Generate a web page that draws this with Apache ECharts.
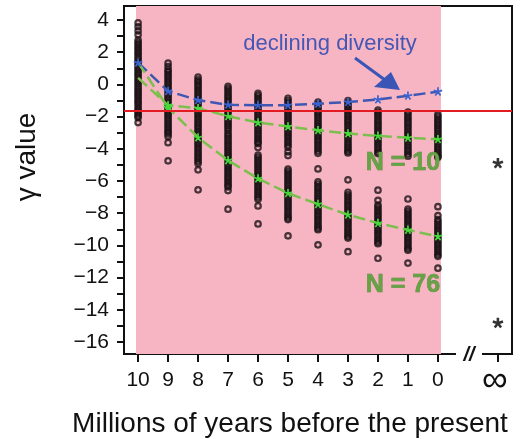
<!DOCTYPE html>
<html><head><meta charset="utf-8">
<script src="https://cdn.jsdelivr.net/npm/echarts@6/dist/echarts.min.js"></script>
<style>html,body{margin:0;padding:0;background:#fff}#c{width:527px;height:439px}</style>
</head><body><div id="c"></div>
<script>
// ---- data ----
const years = [10, 9, 8, 7, 6, 5, 4, 3, 2, 1, 0];
const decliningMean = [1.35, -0.42, -0.98, -1.27, -1.29, -1.29, -1.2, -1.1, -0.94, -0.71, -0.45];
const n10Mean = [0.4, -1.3, -1.48, -1.98, -2.37, -2.62, -2.85, -3.05, -3.2, -3.32, -3.41];
const n76Mean = [1.35, -1.45, -3.3, -4.72, -5.85, -6.76, -7.44, -8.1, -8.62, -9.04, -9.45];
const sim10 = [
  [3.82,3.58,3.33,3.08,2.75,2.6,2.47,2.32,2.18,2.03,1.9,1.74,1.6,1.45,1.31,1.17,1.02,0.88,0.73,0.6,0.45,0.3,0.16,0.02,-0.13,-0.27,-0.42,-0.56,-0.7,-0.85,-1.0,-1.13,-1.27,-1.44,-1.58,-1.71,-1.84,-1.96,-2.06,-2.37],
  [1.32,1.11,0.9,0.78,0.63,0.5,0.35,0.2,0.06,-0.08,-0.23,-0.37,-0.52,-0.66,-0.8,-0.95,-1.1,-1.24,-1.38,-1.53,-1.67,-1.82,-1.96,-2.1,-2.25,-2.4,-2.54,-2.68,-2.83,-2.96,-3.08,-3.24,-3.62,-4.75],
  [0.45,0.28,0.15,0.0,-0.14,-0.29,-0.43,-0.58,-0.72,-0.87,-1.01,-1.16,-1.3,-1.45,-1.6,-1.74,-1.88,-2.03,-2.17,-2.32,-2.46],
  [-0.12,-0.26,-0.4,-0.55,-0.7,-0.84,-0.99,-1.13,-1.28,-1.42,-1.57,-1.71,-1.86,-2.0,-2.15,-2.3,-2.44,-2.58,-2.73,-2.88],
  [-0.56,-0.7,-0.85,-0.99,-1.14,-1.28,-1.43,-1.57,-1.72,-1.86,-2.01,-2.15,-2.3,-2.45,-2.59,-2.74,-2.88,-3.03,-3.17,-3.32,-3.46,-3.6,-3.68,-3.92],
  [-0.86,-1.0,-1.15,-1.29,-1.44,-1.58,-1.73,-1.87,-2.02,-2.16,-2.31,-2.45,-2.6,-2.74,-2.89,-3.03,-3.18,-3.32,-3.47,-3.61,-3.76,-3.9,-4.19,-4.42],
  [-1.1,-1.24,-1.39,-1.53,-1.68,-1.82,-1.97,-2.11,-2.26,-2.4,-2.55,-2.69,-2.84,-2.98,-3.13,-3.27,-3.42,-3.56,-3.71,-3.85,-4.0,-4.14,-4.28,-5.25],
  [-1.0,-1.14,-1.29,-1.43,-1.58,-1.72,-1.87,-2.01,-2.16,-2.3,-2.45,-2.59,-2.74,-2.88,-3.03,-3.17,-3.32,-3.46,-3.61,-3.75,-3.9,-4.04,-4.17,-4.26],
  [-1.6,-1.74,-1.89,-2.03,-2.18,-2.32,-2.47,-2.61,-2.76,-2.9,-3.05,-3.19,-3.34,-3.48,-3.63,-3.77,-3.92,-4.06,-4.2,-4.3],
  [-1.72,-1.86,-2.01,-2.15,-2.3,-2.44,-2.59,-2.73,-2.88,-3.02,-3.17,-3.31,-3.46,-3.6,-3.75,-3.89,-4.04,-4.18,-4.33,-4.46],
  [-1.86,-2.0,-2.15,-2.29,-2.44,-2.58,-2.73,-2.87,-3.02,-3.16,-3.31,-3.45,-3.6,-3.74,-3.89,-4.03,-4.18,-4.32,-4.45,-4.52]
];
const sim76 = [
  [],
  [],
  [-2.6,-2.75,-2.9,-3.04,-3.18,-3.33,-3.47,-3.62,-3.76,-3.91,-4.05,-4.2,-4.34,-4.49,-4.63,-4.78,-4.92,-5.31,-6.55],
  [-3.05,-3.2,-3.35,-3.5,-3.64,-3.79,-3.94,-4.08,-4.23,-4.38,-4.52,-4.67,-4.82,-4.96,-5.11,-5.26,-5.4,-5.55,-5.7,-5.84,-5.99,-6.13,-6.27,-6.37,-6.6,-7.75],
  [-4.4,-4.54,-4.69,-4.83,-4.98,-5.12,-5.27,-5.41,-5.56,-5.7,-5.85,-6.0,-6.14,-6.29,-6.43,-6.58,-6.72,-6.87,-7.01,-7.14,-7.55,-8.67],
  [-5.27,-5.41,-5.56,-5.7,-5.85,-5.99,-6.14,-6.28,-6.43,-6.57,-6.72,-6.86,-7.01,-7.15,-7.3,-7.44,-7.59,-7.73,-7.88,-8.02,-8.17,-8.3,-8.4,-9.41],
  [-6.05,-6.19,-6.34,-6.48,-6.63,-6.77,-6.92,-7.06,-7.21,-7.35,-7.5,-7.64,-7.79,-7.93,-8.08,-8.22,-8.37,-8.51,-8.66,-8.8,-8.93,-9.03,-9.97],
  [-5.93,-6.7,-6.86,-7.0,-7.15,-7.29,-7.44,-7.58,-7.73,-7.87,-8.02,-8.16,-8.31,-8.45,-8.6,-8.74,-8.89,-9.03,-9.18,-9.32,-9.45,-9.55,-10.39],
  [-6.57,-7.2,-7.5,-7.64,-7.79,-7.93,-8.08,-8.22,-8.37,-8.51,-8.66,-8.8,-8.95,-9.09,-9.24,-9.38,-9.53,-9.67,-9.8,-9.9,-10.8],
  [-7.12,-7.75,-7.89,-8.04,-8.18,-8.33,-8.47,-8.62,-8.76,-8.91,-9.05,-9.2,-9.34,-9.49,-9.63,-9.78,-9.92,-10.07,-10.2,-10.3,-11.1],
  [-7.6,-8.15,-8.4,-8.54,-8.69,-8.83,-8.98,-9.12,-9.27,-9.41,-9.56,-9.7,-9.85,-9.99,-10.14,-10.28,-10.43,-10.57,-10.68,-11.42]
];
const infinityX = -2;
const infinityVals = [-4.9, -14.83];
const redLineY = -1.65;
const pinkSpan = [10.07, -0.1];
const xTicks = [10, 9, 8, 7, 6, 5, 4, 3, 2, 1, 0, -2];
const yTicks = [-16,-15,-14,-13,-12,-11,-10,-9,-8,-7,-6,-5,-4,-3,-2,-1,0,1,2,3,4];
const yLabels = [-16,-14,-12,-10,-8,-6,-4,-2,0,2,4];

// ---- drawing ----
const FONT = "'Liberation Sans', Arial, sans-serif";
function asteriskPath(w) {
  let d = '';
  for (let k = 0; k < 5; k++) {
    const a = (-90 + 72 * k) * Math.PI / 180;
    const ux = Math.cos(a), uy = Math.sin(a);
    const px = -uy * w, py = ux * w;
    const p = [[px, py], [ux + px, uy + py], [ux - px, uy - py], [-px, -py]];
    d += 'M' + p.map(q => q[0].toFixed(3) + ' ' + q[1].toFixed(3)).join(' L') + ' Z ';
  }
  return 'path://' + d;
}
const AST = asteriskPath(0.19);
const AST_BOLD = asteriskPath(0.24);

function cloud(arr) {
  const out = [];
  arr.forEach((vals, i) => vals.forEach(v => out.push([years[i], v])));
  return out;
}
const circleStyle = { color: 'rgba(0,0,0,0)', borderColor: '#1a1215', borderWidth: 2.2 };

const chart = echarts.init(document.getElementById('c'), null, { renderer: 'canvas' });
chart.setOption({
  animation: false,
  backgroundColor: '#fff',
  grid: { left: 124, top: 6, right: 15, bottom: 85, show: true, borderColor: '#111', borderWidth: 2, backgroundColor: 'rgba(0,0,0,0)' },
  xAxis: {
    type: 'value', inverse: true, min: -2.47, max: 10.47,
    axisLine: { show: true, onZero: false, lineStyle: { color: '#111', width: 2 } },
    axisTick: { show: true, customValues: xTicks, length: 8, lineStyle: { color: '#111', width: 2 } },
    axisLabel: {
      customValues: xTicks, fontSize: 21, color: '#111', fontFamily: FONT, margin: 16,
      formatter: v => v === infinityX ? '{inf|\u221E}' : String(v),
      rich: { inf: { fontSize: 36, lineHeight: 22, fontFamily: FONT, color: '#111', padding: [0, 6, 0, 0] } }
    },
    splitLine: { show: false }
  },
  yAxis: {
    type: 'value', min: -16.75, max: 4.87,
    axisLine: { show: true, onZero: false, lineStyle: { color: '#111', width: 2 } },
    axisTick: { show: true, customValues: yTicks, length: 7, lineStyle: { color: '#111', width: 2 } },
    axisLabel: {
      customValues: yLabels, fontSize: 21, color: '#111', fontFamily: FONT, margin: 15,
      formatter: v => v < 0 ? '\u2212' + Math.abs(v) : String(v)
    },
    splitLine: { show: false }
  },
  series: [
    { type: 'line', data: [], z: 1, silent: true,
      markArea: { silent: true, itemStyle: { color: '#f7b5c4' }, data: [[{ xAxis: pinkSpan[0] }, { xAxis: pinkSpan[1] }]] } },
    { type: 'scatter', z: 2, silent: true, symbol: 'circle', symbolSize: 5.5, itemStyle: circleStyle, data: cloud(sim10) },
    { type: 'scatter', z: 2, silent: true, symbol: 'circle', symbolSize: 5.5, itemStyle: circleStyle, data: cloud(sim76) },
    { type: 'line', data: [], z: 3, silent: true,
      markLine: { silent: true, symbol: ['none', 'none'], label: { show: false },
        lineStyle: { color: '#e31b23', width: 2, type: 'solid' }, data: [{ yAxis: redLineY }] } },
    { type: 'line', z: 4, silent: true, data: years.map((x, i) => [x, decliningMean[i]]),
      symbol: AST, symbolSize: 9, symbolKeepAspect: true,
      itemStyle: { color: '#3b63d0' }, lineStyle: { color: '#3f57b3', width: 2.5, type: [12, 5] } },
    { type: 'line', z: 4, silent: true,
      data: years.map((x, i) => i === 0 ? { value: [x, n10Mean[i]], symbol: 'none' } : [x, n10Mean[i]]),
      symbol: AST, symbolSize: 9, symbolKeepAspect: true,
      itemStyle: { color: '#45d93a' }, lineStyle: { color: '#7dbf4e', width: 2.5, type: [12, 5] } },
    { type: 'line', z: 4, silent: true,
      data: years.map((x, i) => i === 0 ? { value: [x, n76Mean[i]], symbol: 'none' } : [x, n76Mean[i]]),
      symbol: AST, symbolSize: 9, symbolKeepAspect: true,
      itemStyle: { color: '#45d93a' }, lineStyle: { color: '#7dbf4e', width: 2.5, type: [12, 5] } },
    { type: 'scatter', z: 4, silent: true, data: infinityVals.map(v => [infinityX, v]),
      symbol: AST_BOLD, symbolSize: 11, symbolKeepAspect: true, itemStyle: { color: '#000' } }
  ],
  graphic: [
    { type: 'text', x: 27, y: 157, rotation: Math.PI / 2, z: 100,
      style: { text: '\u03B3 value', fontSize: 28, fontFamily: FONT, fill: '#111', align: 'center', verticalAlign: 'middle' } },
    { type: 'text', x: 290, y: 424, z: 100,
      style: { text: 'Millions of years before the present', fontSize: 28, fontFamily: FONT, fill: '#111', align: 'center', verticalAlign: 'middle' } },
    { type: 'text', x: 330, y: 44, z: 100,
      style: { text: 'declining diversity', fontSize: 22, fontFamily: FONT, fill: '#4557b5', align: 'center', verticalAlign: 'middle' } },
    { type: 'line', z: 100, shape: { x1: 355, y1: 58, x2: 385, y2: 80 }, style: { stroke: '#3a55b5', lineWidth: 3 } },
    { type: 'polygon', z: 100, shape: { points: [[400, 90], [374, 87], [391, 72]] }, style: { fill: '#3a55b5' } },
    { type: 'text', x: 403, y: 163, z: 100,
      style: { text: 'N = 10', fontSize: 25, fontWeight: 'bold', fontFamily: FONT, fill: '#66a345', stroke: '#4f7d37', lineWidth: 0.6, align: 'center', verticalAlign: 'middle' } },
    { type: 'text', x: 403, y: 285, z: 100,
      style: { text: 'N = 76', fontSize: 25, fontWeight: 'bold', fontFamily: FONT, fill: '#66a345', stroke: '#4f7d37', lineWidth: 0.6, align: 'center', verticalAlign: 'middle' } },
    { type: 'rect', z: 100, shape: { x: 456, y: 349, width: 26, height: 10 }, style: { fill: '#fff' } },
    { type: 'text', x: 469, y: 355, z: 101,
      style: { text: '//', fontSize: 20, fontWeight: 'bold', fontStyle: 'italic', fontFamily: FONT, fill: '#111', align: 'center', verticalAlign: 'middle' } }
  ]
});
</script>
</body></html>
